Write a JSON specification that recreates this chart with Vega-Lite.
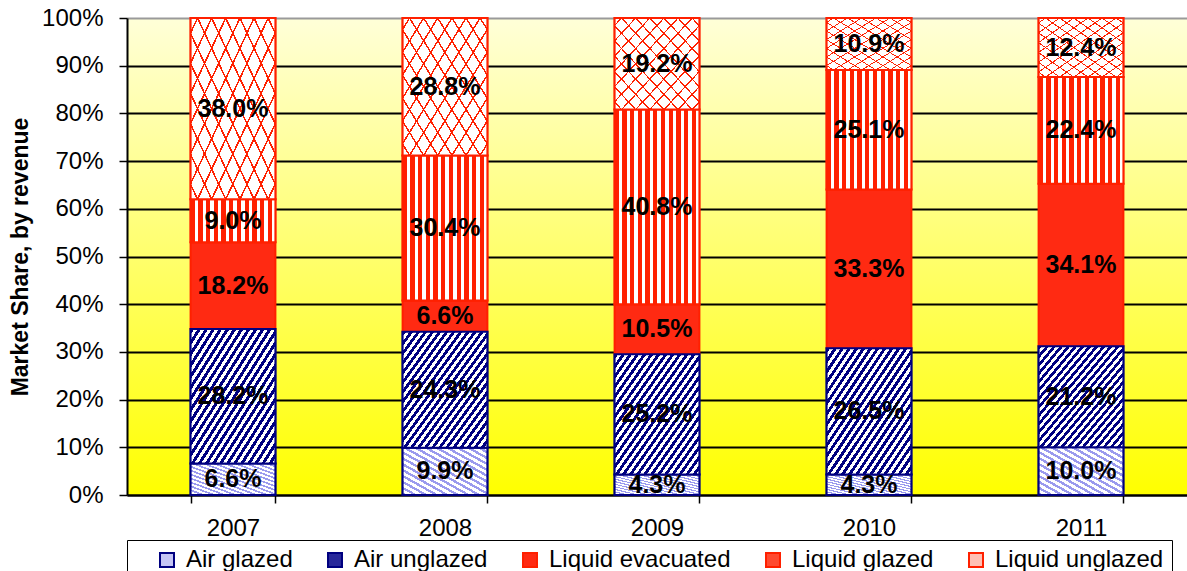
{
  "$schema": "https://vega.github.io/schema/vega-lite/v6.json",
  "width": 1060,
  "height": 477,
  "autosize": "none",
  "padding": {"left": 127, "top": 18, "right": 0, "bottom": 76},
  "background": "white",
  "data": {
    "values": [
      {"year": "2007", "series": "Air glazed", "share": 0.066},
      {"year": "2007", "series": "Air unglazed", "share": 0.282},
      {"year": "2007", "series": "Liquid evacuated", "share": 0.182},
      {"year": "2007", "series": "Liquid glazed", "share": 0.090},
      {"year": "2007", "series": "Liquid unglazed", "share": 0.380},
      {"year": "2008", "series": "Air glazed", "share": 0.099},
      {"year": "2008", "series": "Air unglazed", "share": 0.243},
      {"year": "2008", "series": "Liquid evacuated", "share": 0.066},
      {"year": "2008", "series": "Liquid glazed", "share": 0.304},
      {"year": "2008", "series": "Liquid unglazed", "share": 0.288},
      {"year": "2009", "series": "Air glazed", "share": 0.043},
      {"year": "2009", "series": "Air unglazed", "share": 0.252},
      {"year": "2009", "series": "Liquid evacuated", "share": 0.105},
      {"year": "2009", "series": "Liquid glazed", "share": 0.408},
      {"year": "2009", "series": "Liquid unglazed", "share": 0.192},
      {"year": "2010", "series": "Air glazed", "share": 0.043},
      {"year": "2010", "series": "Air unglazed", "share": 0.265},
      {"year": "2010", "series": "Liquid evacuated", "share": 0.333},
      {"year": "2010", "series": "Liquid glazed", "share": 0.251},
      {"year": "2010", "series": "Liquid unglazed", "share": 0.109},
      {"year": "2011", "series": "Air glazed", "share": 0.100},
      {"year": "2011", "series": "Air unglazed", "share": 0.212},
      {"year": "2011", "series": "Liquid evacuated", "share": 0.341},
      {"year": "2011", "series": "Liquid glazed", "share": 0.224},
      {"year": "2011", "series": "Liquid unglazed", "share": 0.124}
    ]
  },
  "transform": [
    {"stack": "share", "groupby": ["year"], "sort": [{"field": "series", "order": "ascending"}], "offset": "normalize", "as": ["y0", "y1"]}
  ],
  "encoding": {
    "x": {
      "field": "year", "type": "ordinal",
      "scale": {"paddingInner": 0.6, "paddingOuter": 0.3},
      "axis": {"title": null, "labelAngle": 0, "labelFontSize": 24, "tickBand": "extent", "tickSize": 8, "labelPadding": 13, "domainWidth": 2, "tickWidth": 1.5, "grid": false}
    },
    "y": {
      "field": "y0", "type": "quantitative",
      "scale": {"domain": [0, 1], "nice": false},
      "axis": {
        "values": [0, 0.1, 0.2, 0.3, 0.4, 0.5, 0.6, 0.7, 0.8, 0.9, 1],
        "format": ".0%", "labelFontSize": 24, "tickSize": 8, "labelPadding": 16,
        "domainWidth": 2, "tickWidth": 1.5, "grid": true,
        "gridColor": {"condition": {"test": "datum.value >= 1", "value": "#9a9a9a"}, "value": "black"},
        "gridWidth": 2,
        "title": "Market Share, by revenue", "titleFontSize": 23, "titleFontWeight": "bold", "titlePadding": 9, "titleColor": "black"
      }
    },
    "y2": {"field": "y1"}
  },
  "layer": [
    {
      "mark": {"type": "bar", "strokeWidth": 2},
      "encoding": {
        "fill": {
          "field": "series", "type": "nominal",
          "scale": {
            "domain": ["Air glazed", "Air unglazed", "Liquid evacuated", "Liquid glazed", "Liquid unglazed"],
            "range": ["#c4c4f4", "#28289a", "#ff2a12", "#ff4a30", "#ffc0b4"]
          },
          "legend": {"title": " "}
        },
        "stroke": {
          "field": "series", "type": "nominal",
          "scale": {
            "domain": ["Air glazed", "Air unglazed", "Liquid evacuated", "Liquid glazed", "Liquid unglazed"],
            "range": ["#000080", "#000080", "#ff2000", "#ff2000", "#ff2000"]
          },
          "legend": {"title": " "}
        }
      }
    },
    {
      "transform": [{"filter": "datum.series === 'Air glazed'"}],
      "mark": {"type": "bar", "strokeWidth": 2, "stroke": "#000080",
        "fill": {"gradient": "linear", "x1": 0, "y1": 1, "x2": 1, "y2": 0, "stops": [
          {"offset": 0, "color": "#9a9aee"}, {"offset": 0.0281, "color": "#9a9aee"}, {"offset": 0.0281, "color": "white"}, {"offset": 0.0625, "color": "white"},
          {"offset": 0.0625, "color": "#9a9aee"}, {"offset": 0.0906, "color": "#9a9aee"}, {"offset": 0.0906, "color": "white"}, {"offset": 0.125, "color": "white"},
          {"offset": 0.125, "color": "#9a9aee"}, {"offset": 0.1531, "color": "#9a9aee"}, {"offset": 0.1531, "color": "white"}, {"offset": 0.1875, "color": "white"},
          {"offset": 0.1875, "color": "#9a9aee"}, {"offset": 0.2156, "color": "#9a9aee"}, {"offset": 0.2156, "color": "white"}, {"offset": 0.25, "color": "white"},
          {"offset": 0.25, "color": "#9a9aee"}, {"offset": 0.2781, "color": "#9a9aee"}, {"offset": 0.2781, "color": "white"}, {"offset": 0.3125, "color": "white"},
          {"offset": 0.3125, "color": "#9a9aee"}, {"offset": 0.3406, "color": "#9a9aee"}, {"offset": 0.3406, "color": "white"}, {"offset": 0.375, "color": "white"},
          {"offset": 0.375, "color": "#9a9aee"}, {"offset": 0.4031, "color": "#9a9aee"}, {"offset": 0.4031, "color": "white"}, {"offset": 0.4375, "color": "white"},
          {"offset": 0.4375, "color": "#9a9aee"}, {"offset": 0.4656, "color": "#9a9aee"}, {"offset": 0.4656, "color": "white"}, {"offset": 0.5, "color": "white"},
          {"offset": 0.5, "color": "#9a9aee"}, {"offset": 0.5281, "color": "#9a9aee"}, {"offset": 0.5281, "color": "white"}, {"offset": 0.5625, "color": "white"},
          {"offset": 0.5625, "color": "#9a9aee"}, {"offset": 0.5906, "color": "#9a9aee"}, {"offset": 0.5906, "color": "white"}, {"offset": 0.625, "color": "white"},
          {"offset": 0.625, "color": "#9a9aee"}, {"offset": 0.6531, "color": "#9a9aee"}, {"offset": 0.6531, "color": "white"}, {"offset": 0.6875, "color": "white"},
          {"offset": 0.6875, "color": "#9a9aee"}, {"offset": 0.7156, "color": "#9a9aee"}, {"offset": 0.7156, "color": "white"}, {"offset": 0.75, "color": "white"},
          {"offset": 0.75, "color": "#9a9aee"}, {"offset": 0.7781, "color": "#9a9aee"}, {"offset": 0.7781, "color": "white"}, {"offset": 0.8125, "color": "white"},
          {"offset": 0.8125, "color": "#9a9aee"}, {"offset": 0.8406, "color": "#9a9aee"}, {"offset": 0.8406, "color": "white"}, {"offset": 0.875, "color": "white"},
          {"offset": 0.875, "color": "#9a9aee"}, {"offset": 0.9031, "color": "#9a9aee"}, {"offset": 0.9031, "color": "white"}, {"offset": 0.9375, "color": "white"},
          {"offset": 0.9375, "color": "#9a9aee"}, {"offset": 0.9656, "color": "#9a9aee"}, {"offset": 0.9656, "color": "white"}, {"offset": 1, "color": "white"}
        ]}
      }
    },
    {
      "transform": [{"filter": "datum.series === 'Air unglazed'"}],
      "mark": {"type": "bar", "strokeWidth": 2, "stroke": "#000080",
        "fill": {"gradient": "linear", "x1": 0, "y1": 0, "x2": 1, "y2": 1, "stops": [
          {"offset": 0, "color": "#000080"}, {"offset": 0.0208, "color": "#000080"}, {"offset": 0.0208, "color": "white"}, {"offset": 0.0417, "color": "white"},
          {"offset": 0.0417, "color": "#000080"}, {"offset": 0.0625, "color": "#000080"}, {"offset": 0.0625, "color": "white"}, {"offset": 0.0833, "color": "white"},
          {"offset": 0.0833, "color": "#000080"}, {"offset": 0.1042, "color": "#000080"}, {"offset": 0.1042, "color": "white"}, {"offset": 0.125, "color": "white"},
          {"offset": 0.125, "color": "#000080"}, {"offset": 0.1458, "color": "#000080"}, {"offset": 0.1458, "color": "white"}, {"offset": 0.1667, "color": "white"},
          {"offset": 0.1667, "color": "#000080"}, {"offset": 0.1875, "color": "#000080"}, {"offset": 0.1875, "color": "white"}, {"offset": 0.2083, "color": "white"},
          {"offset": 0.2083, "color": "#000080"}, {"offset": 0.2292, "color": "#000080"}, {"offset": 0.2292, "color": "white"}, {"offset": 0.25, "color": "white"},
          {"offset": 0.25, "color": "#000080"}, {"offset": 0.2708, "color": "#000080"}, {"offset": 0.2708, "color": "white"}, {"offset": 0.2917, "color": "white"},
          {"offset": 0.2917, "color": "#000080"}, {"offset": 0.3125, "color": "#000080"}, {"offset": 0.3125, "color": "white"}, {"offset": 0.3333, "color": "white"},
          {"offset": 0.3333, "color": "#000080"}, {"offset": 0.3542, "color": "#000080"}, {"offset": 0.3542, "color": "white"}, {"offset": 0.375, "color": "white"},
          {"offset": 0.375, "color": "#000080"}, {"offset": 0.3958, "color": "#000080"}, {"offset": 0.3958, "color": "white"}, {"offset": 0.4167, "color": "white"},
          {"offset": 0.4167, "color": "#000080"}, {"offset": 0.4375, "color": "#000080"}, {"offset": 0.4375, "color": "white"}, {"offset": 0.4583, "color": "white"},
          {"offset": 0.4583, "color": "#000080"}, {"offset": 0.4792, "color": "#000080"}, {"offset": 0.4792, "color": "white"}, {"offset": 0.5, "color": "white"},
          {"offset": 0.5, "color": "#000080"}, {"offset": 0.5208, "color": "#000080"}, {"offset": 0.5208, "color": "white"}, {"offset": 0.5417, "color": "white"},
          {"offset": 0.5417, "color": "#000080"}, {"offset": 0.5625, "color": "#000080"}, {"offset": 0.5625, "color": "white"}, {"offset": 0.5833, "color": "white"},
          {"offset": 0.5833, "color": "#000080"}, {"offset": 0.6042, "color": "#000080"}, {"offset": 0.6042, "color": "white"}, {"offset": 0.625, "color": "white"},
          {"offset": 0.625, "color": "#000080"}, {"offset": 0.6458, "color": "#000080"}, {"offset": 0.6458, "color": "white"}, {"offset": 0.6667, "color": "white"},
          {"offset": 0.6667, "color": "#000080"}, {"offset": 0.6875, "color": "#000080"}, {"offset": 0.6875, "color": "white"}, {"offset": 0.7083, "color": "white"},
          {"offset": 0.7083, "color": "#000080"}, {"offset": 0.7292, "color": "#000080"}, {"offset": 0.7292, "color": "white"}, {"offset": 0.75, "color": "white"},
          {"offset": 0.75, "color": "#000080"}, {"offset": 0.7708, "color": "#000080"}, {"offset": 0.7708, "color": "white"}, {"offset": 0.7917, "color": "white"},
          {"offset": 0.7917, "color": "#000080"}, {"offset": 0.8125, "color": "#000080"}, {"offset": 0.8125, "color": "white"}, {"offset": 0.8333, "color": "white"},
          {"offset": 0.8333, "color": "#000080"}, {"offset": 0.8542, "color": "#000080"}, {"offset": 0.8542, "color": "white"}, {"offset": 0.875, "color": "white"},
          {"offset": 0.875, "color": "#000080"}, {"offset": 0.8958, "color": "#000080"}, {"offset": 0.8958, "color": "white"}, {"offset": 0.9167, "color": "white"},
          {"offset": 0.9167, "color": "#000080"}, {"offset": 0.9375, "color": "#000080"}, {"offset": 0.9375, "color": "white"}, {"offset": 0.9583, "color": "white"},
          {"offset": 0.9583, "color": "#000080"}, {"offset": 0.9792, "color": "#000080"}, {"offset": 0.9792, "color": "white"}, {"offset": 1, "color": "white"}
        ]}
      }
    },
    {
      "transform": [{"filter": "datum.series === 'Liquid glazed'"}],
      "mark": {"type": "bar", "strokeWidth": 2, "stroke": "#ff2000",
        "fill": {"gradient": "linear", "x1": 0, "y1": 0, "x2": 1, "y2": 0, "stops": [
          {"offset": 0, "color": "#ff2000"}, {"offset": 0.05, "color": "#ff2000"}, {"offset": 0.05, "color": "white"}, {"offset": 0.0909, "color": "white"},
          {"offset": 0.0909, "color": "#ff2000"}, {"offset": 0.1409, "color": "#ff2000"}, {"offset": 0.1409, "color": "white"}, {"offset": 0.1818, "color": "white"},
          {"offset": 0.1818, "color": "#ff2000"}, {"offset": 0.2318, "color": "#ff2000"}, {"offset": 0.2318, "color": "white"}, {"offset": 0.2727, "color": "white"},
          {"offset": 0.2727, "color": "#ff2000"}, {"offset": 0.3227, "color": "#ff2000"}, {"offset": 0.3227, "color": "white"}, {"offset": 0.3636, "color": "white"},
          {"offset": 0.3636, "color": "#ff2000"}, {"offset": 0.4136, "color": "#ff2000"}, {"offset": 0.4136, "color": "white"}, {"offset": 0.4545, "color": "white"},
          {"offset": 0.4545, "color": "#ff2000"}, {"offset": 0.5045, "color": "#ff2000"}, {"offset": 0.5045, "color": "white"}, {"offset": 0.5455, "color": "white"},
          {"offset": 0.5455, "color": "#ff2000"}, {"offset": 0.5955, "color": "#ff2000"}, {"offset": 0.5955, "color": "white"}, {"offset": 0.6364, "color": "white"},
          {"offset": 0.6364, "color": "#ff2000"}, {"offset": 0.6864, "color": "#ff2000"}, {"offset": 0.6864, "color": "white"}, {"offset": 0.7273, "color": "white"},
          {"offset": 0.7273, "color": "#ff2000"}, {"offset": 0.7773, "color": "#ff2000"}, {"offset": 0.7773, "color": "white"}, {"offset": 0.8182, "color": "white"},
          {"offset": 0.8182, "color": "#ff2000"}, {"offset": 0.8682, "color": "#ff2000"}, {"offset": 0.8682, "color": "white"}, {"offset": 0.9091, "color": "white"},
          {"offset": 0.9091, "color": "#ff2000"}, {"offset": 0.9591, "color": "#ff2000"}, {"offset": 0.9591, "color": "white"}, {"offset": 1, "color": "white"}
        ]}
      }
    },
    {
      "transform": [{"filter": "datum.series === 'Liquid unglazed'"}],
      "mark": {"type": "bar", "strokeWidth": 2, "stroke": "#ff2000",
        "fill": {"gradient": "linear", "x1": 0, "y1": 0, "x2": 1, "y2": 1, "stops": [
          {"offset": 0, "color": "white"}, {"offset": 0.036, "color": "white"}, {"offset": 0.036, "color": "#ff2000"}, {"offset": 0.046, "color": "#ff2000"}, {"offset": 0.046, "color": "white"},
          {"offset": 0.119, "color": "white"}, {"offset": 0.119, "color": "#ff2000"}, {"offset": 0.129, "color": "#ff2000"}, {"offset": 0.129, "color": "white"},
          {"offset": 0.202, "color": "white"}, {"offset": 0.202, "color": "#ff2000"}, {"offset": 0.212, "color": "#ff2000"}, {"offset": 0.212, "color": "white"},
          {"offset": 0.286, "color": "white"}, {"offset": 0.286, "color": "#ff2000"}, {"offset": 0.296, "color": "#ff2000"}, {"offset": 0.296, "color": "white"},
          {"offset": 0.369, "color": "white"}, {"offset": 0.369, "color": "#ff2000"}, {"offset": 0.379, "color": "#ff2000"}, {"offset": 0.379, "color": "white"},
          {"offset": 0.452, "color": "white"}, {"offset": 0.452, "color": "#ff2000"}, {"offset": 0.462, "color": "#ff2000"}, {"offset": 0.462, "color": "white"},
          {"offset": 0.536, "color": "white"}, {"offset": 0.536, "color": "#ff2000"}, {"offset": 0.546, "color": "#ff2000"}, {"offset": 0.546, "color": "white"},
          {"offset": 0.619, "color": "white"}, {"offset": 0.619, "color": "#ff2000"}, {"offset": 0.629, "color": "#ff2000"}, {"offset": 0.629, "color": "white"},
          {"offset": 0.702, "color": "white"}, {"offset": 0.702, "color": "#ff2000"}, {"offset": 0.712, "color": "#ff2000"}, {"offset": 0.712, "color": "white"},
          {"offset": 0.786, "color": "white"}, {"offset": 0.786, "color": "#ff2000"}, {"offset": 0.796, "color": "#ff2000"}, {"offset": 0.796, "color": "white"},
          {"offset": 0.869, "color": "white"}, {"offset": 0.869, "color": "#ff2000"}, {"offset": 0.879, "color": "#ff2000"}, {"offset": 0.879, "color": "white"},
          {"offset": 0.952, "color": "white"}, {"offset": 0.952, "color": "#ff2000"}, {"offset": 0.962, "color": "#ff2000"}, {"offset": 0.962, "color": "white"},
          {"offset": 1, "color": "white"}
        ]}
      }
    },
    {
      "transform": [{"filter": "datum.series === 'Liquid unglazed'"}],
      "mark": {"type": "bar", "strokeWidth": 0,
        "fill": {"gradient": "linear", "x1": 0, "y1": 1, "x2": 1, "y2": 0, "stops": [
          {"offset": 0, "color": "rgba(255,255,255,0)"}, {"offset": 0.036, "color": "rgba(255,255,255,0)"}, {"offset": 0.036, "color": "#ff2000"}, {"offset": 0.046, "color": "#ff2000"}, {"offset": 0.046, "color": "rgba(255,255,255,0)"},
          {"offset": 0.119, "color": "rgba(255,255,255,0)"}, {"offset": 0.119, "color": "#ff2000"}, {"offset": 0.129, "color": "#ff2000"}, {"offset": 0.129, "color": "rgba(255,255,255,0)"},
          {"offset": 0.202, "color": "rgba(255,255,255,0)"}, {"offset": 0.202, "color": "#ff2000"}, {"offset": 0.212, "color": "#ff2000"}, {"offset": 0.212, "color": "rgba(255,255,255,0)"},
          {"offset": 0.286, "color": "rgba(255,255,255,0)"}, {"offset": 0.286, "color": "#ff2000"}, {"offset": 0.296, "color": "#ff2000"}, {"offset": 0.296, "color": "rgba(255,255,255,0)"},
          {"offset": 0.369, "color": "rgba(255,255,255,0)"}, {"offset": 0.369, "color": "#ff2000"}, {"offset": 0.379, "color": "#ff2000"}, {"offset": 0.379, "color": "rgba(255,255,255,0)"},
          {"offset": 0.452, "color": "rgba(255,255,255,0)"}, {"offset": 0.452, "color": "#ff2000"}, {"offset": 0.462, "color": "#ff2000"}, {"offset": 0.462, "color": "rgba(255,255,255,0)"},
          {"offset": 0.536, "color": "rgba(255,255,255,0)"}, {"offset": 0.536, "color": "#ff2000"}, {"offset": 0.546, "color": "#ff2000"}, {"offset": 0.546, "color": "rgba(255,255,255,0)"},
          {"offset": 0.619, "color": "rgba(255,255,255,0)"}, {"offset": 0.619, "color": "#ff2000"}, {"offset": 0.629, "color": "#ff2000"}, {"offset": 0.629, "color": "rgba(255,255,255,0)"},
          {"offset": 0.702, "color": "rgba(255,255,255,0)"}, {"offset": 0.702, "color": "#ff2000"}, {"offset": 0.712, "color": "#ff2000"}, {"offset": 0.712, "color": "rgba(255,255,255,0)"},
          {"offset": 0.786, "color": "rgba(255,255,255,0)"}, {"offset": 0.786, "color": "#ff2000"}, {"offset": 0.796, "color": "#ff2000"}, {"offset": 0.796, "color": "rgba(255,255,255,0)"},
          {"offset": 0.869, "color": "rgba(255,255,255,0)"}, {"offset": 0.869, "color": "#ff2000"}, {"offset": 0.879, "color": "#ff2000"}, {"offset": 0.879, "color": "rgba(255,255,255,0)"},
          {"offset": 0.952, "color": "rgba(255,255,255,0)"}, {"offset": 0.952, "color": "#ff2000"}, {"offset": 0.962, "color": "#ff2000"}, {"offset": 0.962, "color": "rgba(255,255,255,0)"},
          {"offset": 1, "color": "rgba(255,255,255,0)"}
        ]}
      }
    },
    {
      "transform": [
        {"fold": ["y0", "y1"], "as": ["edge", "pos"]},
        {"aggregate": [{"op": "mean", "field": "pos", "as": "ymid"}], "groupby": ["year", "series", "share"]}
      ],
      "mark": {"type": "text", "fontWeight": "bold", "fontSize": 25, "color": "black", "baseline": "middle", "clip": true},
      "encoding": {
        "y": {
          "field": "ymid", "type": "quantitative",
          "axis": {
            "values": [0, 0.1, 0.2, 0.3, 0.4, 0.5, 0.6, 0.7, 0.8, 0.9, 1],
            "format": ".0%", "labelFontSize": 24, "tickSize": 8, "labelPadding": 16,
            "domainWidth": 2, "tickWidth": 1.5, "grid": true,
            "gridColor": {"condition": {"test": "datum.value >= 1", "value": "#9a9a9a"}, "value": "black"},
            "gridWidth": 2,
            "title": "Market Share, by revenue", "titleFontSize": 23, "titleFontWeight": "bold", "titlePadding": 9, "titleColor": "black"
          }
        },
        "y2": null,
        "text": {"field": "share", "type": "quantitative", "format": ".1%"}
      }
    }
  ],
  "config": {
    "font": "Liberation Sans",
    "view": {
      "stroke": null,
      "fill": {"gradient": "linear", "x1": 0, "y1": 0, "x2": 0, "y2": 1, "stops": [
        {"offset": 0, "color": "#ffffd8"}, {"offset": 1, "color": "#ffff00"}
      ]}
    },
    "axis": {"labelColor": "black", "domainColor": "black", "tickColor": "black", "labelFont": "Liberation Sans", "titleFont": "Liberation Sans"},
    "legend": {
      "orient": "bottom", "direction": "horizontal", "offset": 0,
      "titleOrient": "left", "titleFontSize": 24, "titlePadding": 20,
      "symbolType": "square", "symbolSize": 196, "symbolStrokeWidth": 2,
      "labelFontSize": 24, "labelColor": "black", "labelOffset": 7, "labelFont": "Liberation Sans", "labelLimit": 400,
      "columnPadding": 30, "padding": 8, "strokeColor": "black"
    }
  }
}
